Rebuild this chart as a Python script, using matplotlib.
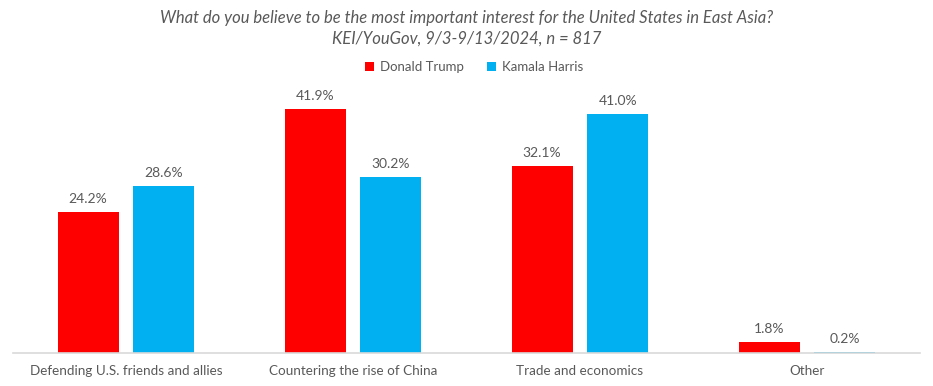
import matplotlib.pyplot as plt
import numpy as np

plt.rcParams['font.family'] = ['Lato', 'DejaVu Sans']

categories = ["Defending U.S. friends and allies", "Countering the rise of China",
              "Trade and economics", "Other"]
trump = [24.2, 41.9, 32.1, 1.8]
harris = [28.6, 30.2, 41.0, 0.2]

red = "#FF0000"
blue = "#00B0F0"
grey = "#595959"

fig = plt.figure(figsize=(9.33, 3.86), dpi=100)
ax = fig.add_axes([0.0134, 0.0855, 0.9732, 0.68])

x = np.arange(len(categories))
w = 0.268
off = 0.167
b1 = ax.bar(x - off, trump, w, color=red, label="Donald Trump")
b2 = ax.bar(x + off, harris, w, color=blue, label="Kamala Harris")

for bars, vals in ((b1, trump), (b2, harris)):
    for b, v in zip(bars, vals):
        ax.text(b.get_x() + b.get_width() / 2, v + 1.2, f"{v:.1f}%",
                ha="center", va="bottom", fontsize=10, color=grey)

ax.set_xlim(-0.5, 3.5)
ax.set_ylim(0, 45)
ax.set_xticks(x)
ax.set_xticklabels(categories, fontsize=9.7, color=grey)
ax.tick_params(axis="x", length=0, pad=9)
ax.set_yticks([])
for s in ("top", "right", "left"):
    ax.spines[s].set_visible(False)
ax.spines["bottom"].set_color("#D9D9D9")
ax.spines["bottom"].set_linewidth(1.2)

fig.text(0.5, 0.953, "What do you believe to be the most important interest for the United States in East Asia?",
         ha="center", va="center", fontsize=12, style="italic", color=grey)
fig.text(0.5, 0.900, "KEI/YouGov, 9/3-9/13/2024, n = 817",
         ha="center", va="center", fontsize=12, style="italic", color=grey)

fig.legend(handles=[b1, b2], loc="center", bbox_to_anchor=(0.508, 0.826), ncol=2,
           frameon=False, fontsize=9.5, handlelength=0.7, handleheight=0.7,
           handletextpad=0.4, columnspacing=1.8, labelcolor=grey)

fig.savefig("out.png", dpi=100)
